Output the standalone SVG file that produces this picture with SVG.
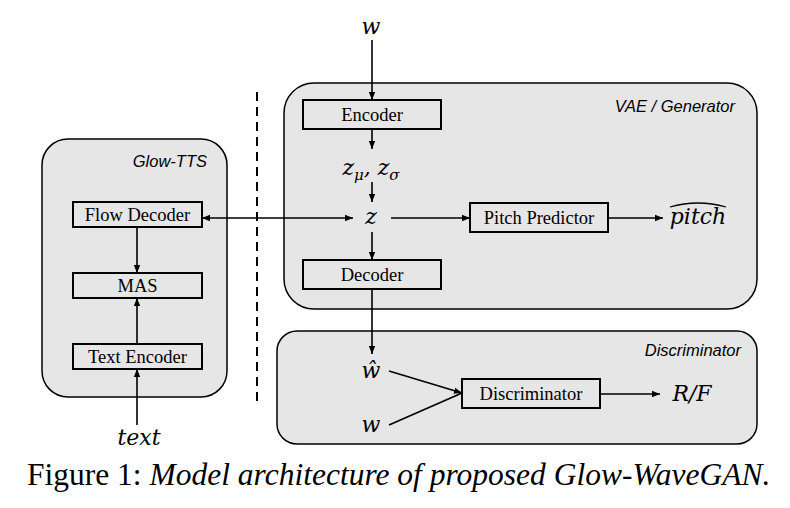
<svg xmlns="http://www.w3.org/2000/svg" width="790" height="508" viewBox="0 0 790 508">
<defs>
<marker id="ah" viewBox="0 0 10 10" refX="10" refY="5" markerWidth="8" markerHeight="8" markerUnits="userSpaceOnUse" orient="auto-start-reverse">
<path d="M0,1 L10,5 L0,9 z" fill="#000"/>
</marker>
<style>
.cont{fill:#e6e6e6;stroke:#000;stroke-width:1.5}
.box{fill:#e6e6e6;stroke:#000;stroke-width:2}
.bl{font-family:"Liberation Serif",serif;font-size:18.5px;text-anchor:middle;fill:#000}
.cl{font-family:"Liberation Sans",sans-serif;font-style:italic;font-size:16.5px;text-anchor:end;fill:#000}
.m{font-family:"DejaVu Serif",serif;font-style:italic;font-size:22px;text-anchor:middle;fill:#000}
.c{stroke:#000;stroke-width:1.6;fill:none}
.ar{marker-end:url(#ah)}
</style>
</defs>
<rect width="790" height="508" fill="#fff"/>
<g id="glowtts">
<rect class="cont" x="42" y="139" width="185" height="258" rx="26"/>
<text class="cl" x="207" y="167">Glow-TTS</text>
</g>
<g id="vae">
<rect class="cont" x="284" y="83" width="473" height="226" rx="30"/>
<text class="cl" x="735" y="112">VAE / Generator</text>
</g>
<g id="disc-group">
<rect class="cont" x="277" y="331" width="480" height="113" rx="20"/>
<text class="cl" x="741" y="356">Discriminator</text>
</g>
<g id="divider">
<line x1="257" y1="92" x2="257" y2="407" stroke="#000" stroke-width="2" stroke-dasharray="9,6"/>
</g>
<g id="flowdecoder">
<rect class="box" x="73" y="202" width="129" height="25"/>
<text class="bl" x="137.5" y="221">Flow Decoder</text>
</g>
<g id="mas">
<rect class="box" x="73" y="273" width="129" height="25"/>
<text class="bl" x="137.5" y="292">MAS</text>
</g>
<g id="textencoder">
<rect class="box" x="73" y="344" width="129" height="25"/>
<text class="bl" x="137.5" y="363">Text Encoder</text>
</g>
<g id="encoder">
<rect class="box" x="303" y="100" width="138" height="29"/>
<text class="bl" x="372" y="121">Encoder</text>
</g>
<g id="decoder">
<rect class="box" x="303" y="260" width="138" height="29"/>
<text class="bl" x="372" y="281">Decoder</text>
</g>
<g id="pitchpredictor">
<rect class="box" x="470" y="203" width="138" height="29"/>
<text class="bl" x="539" y="224">Pitch Predictor</text>
</g>
<g id="discriminator">
<rect class="box" x="462" y="379" width="138" height="29"/>
<text class="bl" x="531" y="400">Discriminator</text>
</g>
<g id="labels">
<text class="m" x="371" y="34">w</text>
<text class="m" x="371" y="175">z<tspan font-size="15" dy="5">μ</tspan><tspan dy="-5">, z</tspan><tspan font-size="15" dy="5">σ</tspan></text>
<text class="m" x="371" y="224">z</text>
<text class="m" x="698" y="224">pitch</text>
<path d="M670,207 Q698,199 726,207" fill="none" stroke="#000" stroke-width="1.3"/>
<text class="m" x="371" y="378">ŵ</text>
<text class="m" x="371" y="432">w</text>
<text class="m" x="692" y="401">R/F</text>
<text class="m" x="139" y="445" font-size="21">text</text>
</g>
<g id="connectors">
<line class="c ar" x1="372" y1="40" x2="372" y2="100"/>
<line class="c ar" x1="372" y1="129" x2="372" y2="149"/>
<line class="c ar" x1="372" y1="182" x2="372" y2="202"/>
<line class="c ar" x1="372" y1="232" x2="372" y2="260"/>
<line class="c ar" x1="391" y1="218" x2="470" y2="218"/>
<line class="c ar" x1="608" y1="218" x2="663" y2="218"/>
<line class="c ar" x1="353" y1="218" x2="202" y2="218" style="marker-start:url(#ah)"/>
<line class="c ar" x1="137" y1="227" x2="137" y2="273"/>
<line class="c ar" x1="137" y1="344" x2="137" y2="298"/>
<line class="c ar" x1="137" y1="425" x2="137" y2="369"/>
<line class="c ar" x1="372" y1="289" x2="372" y2="354"/>
<line class="c ar" x1="389" y1="371" x2="462" y2="393"/>
<line class="c" x1="389" y1="425" x2="462" y2="393"/>
<line class="c ar" x1="600" y1="394" x2="660" y2="394"/>
</g>
<g id="caption">
<text x="27" y="485" font-family="Liberation Serif,serif" font-size="31.5" fill="#000">Figure 1: <tspan font-style="italic">Model architecture of proposed Glow-WaveGAN.</tspan></text>
</g>
</svg>
